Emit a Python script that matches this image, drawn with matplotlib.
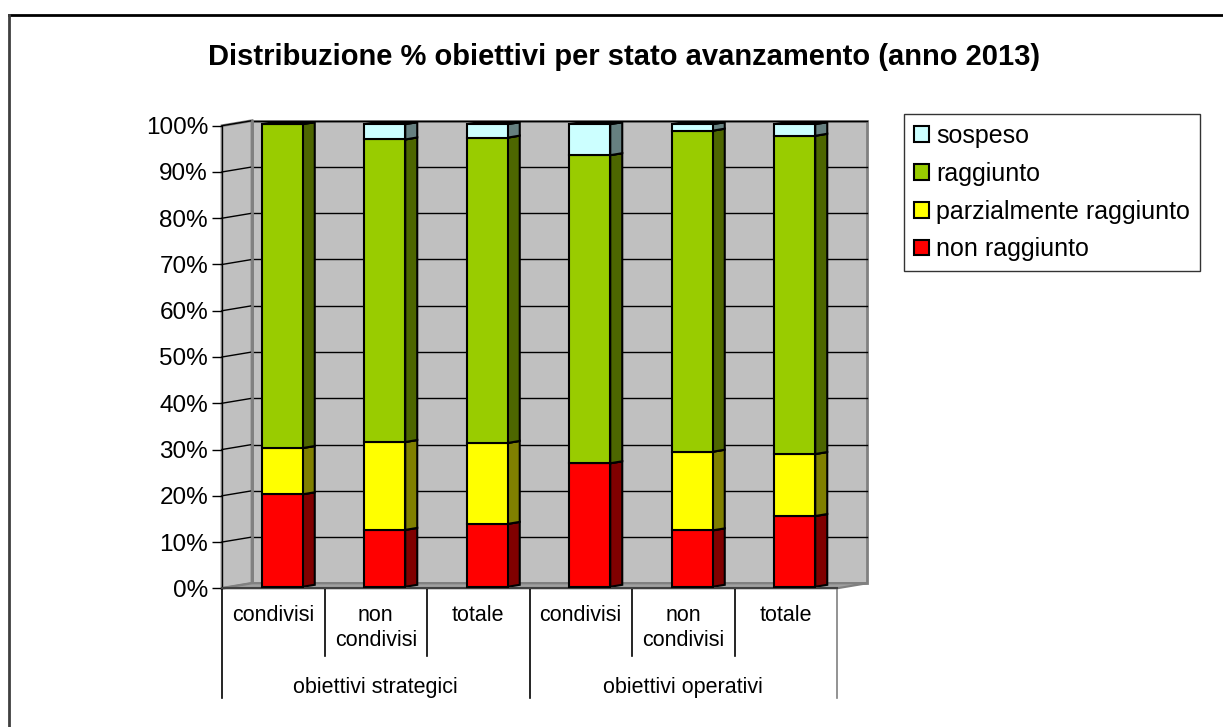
import numpy as np
import matplotlib
matplotlib.use("Agg")
import matplotlib.pyplot as plt
from matplotlib.patches import Polygon, Patch
from matplotlib.ticker import PercentFormatter

plt.rcParams['font.family'] = ['Liberation Sans', 'DejaVu Sans']

# dati (quota di obiettivi per stato, anno 2013)
sottocategorie = ["condivisi", "non\ncondivisi", "totale", "condivisi", "non\ncondivisi", "totale"]
gruppi = ["obiettivi strategici", "obiettivi operativi"]
serie = ["non raggiunto", "parzialmente raggiunto", "raggiunto", "sospeso"]
non_raggiunto = [0.200, 0.123, 0.136, 0.267, 0.122, 0.153]
parz_raggiunto = [0.100, 0.190, 0.175, 0.000, 0.170, 0.134]
raggiunto = [0.700, 0.654, 0.660, 0.666, 0.694, 0.688]
sospeso = [0.000, 0.033, 0.029, 0.067, 0.014, 0.025]

valori = [non_raggiunto, parz_raggiunto, raggiunto, sospeso]
col_fronte = ["#FF0000", "#FFFF00", "#99CC00", "#CCFFFF"]
col_lato = ["#800000", "#808000", "#4D6600", "#668080"]

W, H = 1223, 727
fig = plt.figure(figsize=(W / 100, H / 100), dpi=100)
# asse frontale del grafico 3D (in pixel: x 222-837, y 125.7-588.3)
ax = fig.add_axes([222 / W, (H - 588.3) / H, 615 / W, 462.6 / H])
ax.set_xlim(0, 6)
ax.set_ylim(0, 1)
PX = 6 / 615      # unita dati per pixel in x
PY = 1 / 462.6    # unita dati per pixel in y
WX, WY = 30 * PX, 5 * PY   # profondita delle pareti

# pareti e pavimento
ax.add_patch(Polygon([(WX, WY), (6 + WX, WY), (6 + WX, 1 + WY), (WX, 1 + WY)],
                     closed=True, fc="#C0C0C0", ec="#808080", lw=2, zorder=0, clip_on=False))
ax.add_patch(Polygon([(0, 0), (WX, WY), (WX, 1 + WY), (0, 1)],
                     closed=True, fc="#C0C0C0", ec="#808080", lw=2, zorder=0, clip_on=False))
ax.add_patch(Polygon([(0, 0), (6, 0), (6 + WX, WY), (WX, WY)],
                     closed=True, fc="#A0A0A0", ec="#808080", lw=1.5, zorder=0.5, clip_on=False))
for v in np.arange(0.1, 1.01, 0.1):
    ax.plot([WX, 6 + WX], [v + WY, v + WY], color="black", lw=1, zorder=0.3, clip_on=False)
    ax.plot([0, WX], [v, v + WY], color="black", lw=1, zorder=0.3, clip_on=False)
ax.plot([WX, WX], [WY, 1 + WY], color="#808080", lw=2, zorder=0.4, clip_on=False)

# barre: faccia frontale a 0.3 della profondita, retro a 0.7
fx, fy = 0.3 * WX, 0.3 * WY
sx, sy = 0.4 * WX, 0.4 * WY
larg = 0.4
x = np.arange(6) + 0.5 + fx
base = np.zeros(6)
for vals, cf, cl in zip(valori, col_fronte, col_lato):
    vals = np.array(vals)
    for i in range(6):
        if vals[i] <= 0:
            continue
        b = base[i] + fy
        t = b + vals[i]
        r = x[i] + larg / 2
        l = x[i] - larg / 2
        ax.add_patch(Polygon([(r, b), (r + sx, b + sy), (r + sx, t + sy), (r, t)],
                             closed=True, fc=cl, ec="black", lw=1.5, zorder=2, clip_on=False))
        ax.add_patch(Polygon([(l, t), (r, t), (r + sx, t + sy), (l + sx, t + sy)],
                             closed=True, fc=cf, ec="black", lw=1.5, zorder=2, clip_on=False))
    ax.bar(x, vals, width=larg, bottom=base + fy, color=cf, edgecolor="black",
           linewidth=1.5, zorder=3, clip_on=False)
    base = base + vals

# assi
ax.set_facecolor("none")
for s in ["top", "right"]:
    ax.spines[s].set_visible(False)
ax.spines["left"].set_color("black")
ax.spines["bottom"].set_color("#404040")
ax.spines["bottom"].set_linewidth(1.5)
ax.set_yticks(np.arange(0, 1.01, 0.1))
ax.yaxis.set_major_formatter(PercentFormatter(1.0, decimals=0))
ax.tick_params(axis="y", length=7, width=1, pad=3, labelsize=17.5, color="black")
ax.set_xticks([])

# etichette categorie a due livelli
for i, lab in enumerate(sottocategorie):
    ax.text(i + 0.5, -17 * PY, lab, ha="center", va="top", fontsize=15.5, linespacing=1.2,
            clip_on=False)
for g, lab in enumerate(gruppi):
    ax.text(1.5 + 3 * g, -(688 - 588.3) * PY, lab, ha="center", va="center", fontsize=15.5,
            clip_on=False)
for k in range(7):
    fondo = -(698 - 588.3) * PY if k % 3 == 0 else -(656 - 588.3) * PY
    col = "#808080" if k == 6 else "black"
    ax.plot([k, k], [0, fondo], color=col, lw=1.2, clip_on=False)

fig.text(0.510, 1 - 57 / H, "Distribuzione % obiettivi per stato avanzamento (anno 2013)",
         ha="center", va="center", fontsize=21, fontweight="bold")

handles = [Patch(facecolor=c, edgecolor="black", linewidth=1.5) for c in col_fronte[::-1]]
leg = fig.legend(handles, serie[::-1], loc="upper left", bbox_to_anchor=(904 / W, 1 - 114 / H),
                 fontsize=18, frameon=True, fancybox=False, edgecolor="black",
                 handlelength=0.6, handleheight=0.6, handletextpad=0.3, labelspacing=0.55,
                 borderpad=0.4, borderaxespad=0)
leg.get_frame().set_linewidth(1)

# cornice esterna
fig.add_artist(plt.Line2D([9 / W, 1], [1 - 15 / H, 1 - 15 / H], color="black", lw=2,
                          transform=fig.transFigure))
fig.add_artist(plt.Line2D([9 / W, 9 / W], [0, 1 - 15 / H], color="#404040", lw=2,
                          transform=fig.transFigure))

fig.savefig("out.png", dpi=100)
